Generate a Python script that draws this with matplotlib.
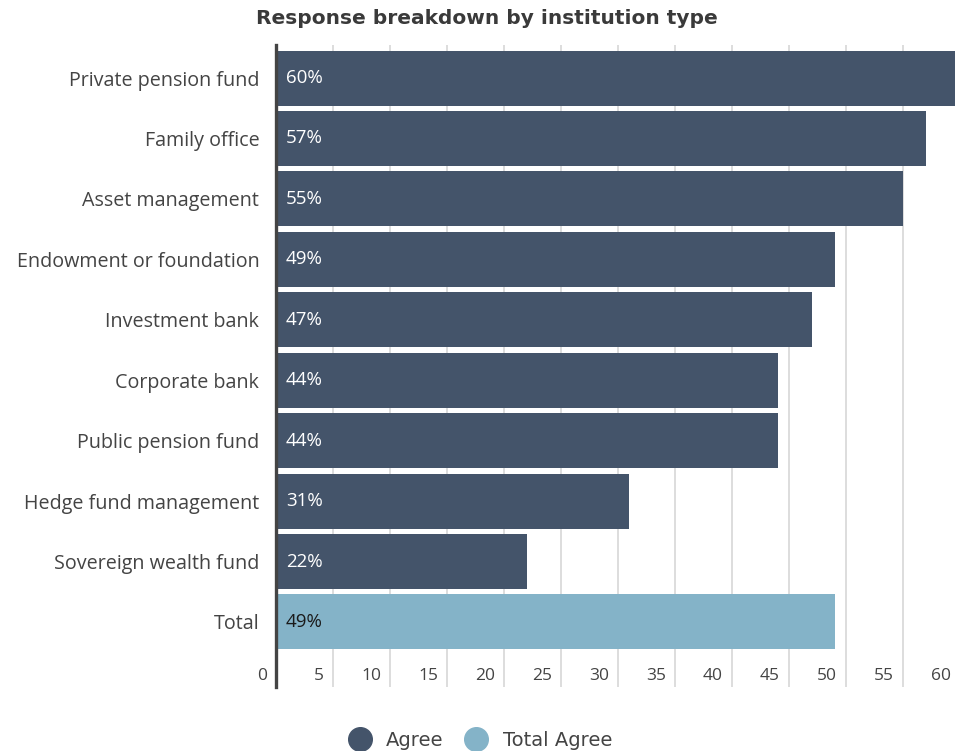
import matplotlib.pyplot as plt
from matplotlib.lines import Line2D
from matplotlib.transforms import offset_copy

# Dados do gráfico
categorias = ["Private pension fund", "Family office", "Asset management",
              "Endowment or foundation", "Investment bank", "Corporate bank",
              "Public pension fund", "Hedge fund management",
              "Sovereign wealth fund", "Total"]
valores = [60, 57, 55, 49, 47, 44, 44, 31, 22, 49]
serie = ["Agree"] * 9 + ["Total Agree"]
ticks_x = [0, 5, 10, 15, 20, 25, 30, 35, 40, 45, 50, 55, 60]

cores = {"Agree": "#44546a", "Total Agree": "#84b3c8"}
cor_texto = "#444444"
fonte = "Open Sans"

fig = plt.figure(figsize=(9.55, 7.51), dpi=100)
ax = fig.add_axes([0.289, 0.0852, 0.7162, 0.8548])

posicoes = list(range(len(categorias)))
ax.barh(posicoes, valores, height=0.91,
        color=[cores[s] for s in serie], zorder=2)

ax.set_xlim(0, 60)
ax.set_ylim(10.076, -0.546)

# Linhas verticais da grelha
for t in ticks_x[1:]:
    ax.axvline(t, color="#dddddd", linewidth=1.4, zorder=1)

# Rótulos de percentagem dentro das barras
desloc = offset_copy(ax.transData, fig=fig, x=7, y=0, units="points")
for p, v, s in zip(posicoes, valores, serie):
    cor = "white" if s == "Agree" else "#1a1a1a"
    ax.text(0, p, f"{v}%", transform=desloc, ha="left", va="center",
            fontsize=13.5, color=cor, family=fonte, zorder=3)

# Valores do eixo X, alinhados à esquerda de cada linha da grelha
desloc_x = offset_copy(ax.transData, fig=fig, x=-6.5, y=0, units="points")
for t in ticks_x:
    ax.text(t, 9.9, str(t), transform=desloc_x, ha="right", va="center",
            fontsize=12.5, color=cor_texto, family=fonte)

ax.set_yticks(posicoes)
ax.set_yticklabels(categorias, fontsize=14.2, color=cor_texto, family=fonte)
ax.tick_params(axis="y", length=0, pad=12)
ax.set_xticks([])

for lado in ["top", "right", "bottom"]:
    ax.spines[lado].set_visible(False)
ax.spines["left"].set_color("#444444")
ax.spines["left"].set_linewidth(2.4)
ax.spines["left"].set_zorder(4)

fig.text(487 / 955, 1 - 19 / 751, "Response breakdown by institution type",
         ha="center", va="center", fontsize=14.5, fontweight="bold",
         color="#3a3a3a", family="DejaVu Sans")

# Legenda
marcas = [Line2D([], [], marker="o", linestyle="none", markersize=17,
                 markerfacecolor=cores[k], markeredgecolor=cores[k])
          for k in ["Agree", "Total Agree"]]
fig.legend(marcas, ["Agree", "Total Agree"], loc="center",
           bbox_to_anchor=(480 / 955, 1 - 740 / 751), ncol=2, frameon=False,
           prop={"family": "DejaVu Sans", "size": 14}, labelcolor=cor_texto,
           handletextpad=0.75, columnspacing=1.1, handlelength=1.2)

fig.savefig("out.png", dpi=100)
